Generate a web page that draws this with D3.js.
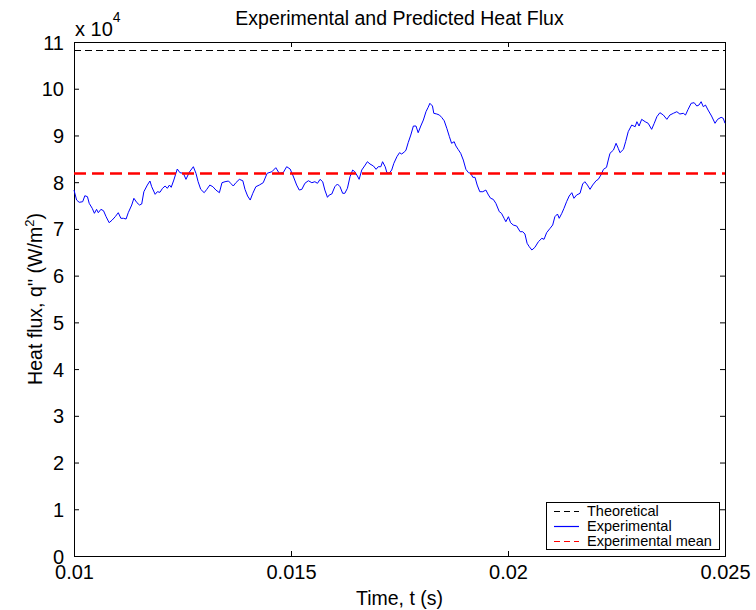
<!DOCTYPE html>
<html>
<head>
<meta charset="utf-8">
<script src="https://cdn.jsdelivr.net/npm/d3@7"></script>
<style>
    body { margin: 0; background: #fff; }
    svg text { font-family: "Liberation Sans", Arial, Helvetica, sans-serif; fill: #000; }
</style>
</head>
<body>
<div id="chart"></div>
<script>
// time (s)
const timeSec = [
    0.01000, 0.01006, 0.01012, 0.01020, 0.01025, 0.01031, 0.01035, 0.01042, 0.01047, 0.01052,
    0.01056, 0.01062, 0.01068, 0.01074, 0.01081, 0.01088, 0.01095, 0.01102, 0.01108, 0.01114,
    0.01120, 0.01125, 0.01133, 0.01138, 0.01145, 0.01151, 0.01156, 0.01161, 0.01169, 0.01175,
    0.01179, 0.01187, 0.01192, 0.01198, 0.01204, 0.01210, 0.01215, 0.01220, 0.01224, 0.01230,
    0.01238, 0.01244, 0.01252, 0.01258, 0.01266, 0.01275, 0.01281, 0.01286, 0.01292, 0.01300,
    0.01306, 0.01313, 0.01320, 0.01327, 0.01335, 0.01341, 0.01348, 0.01356, 0.01361, 0.01367,
    0.01373, 0.01381, 0.01389, 0.01394, 0.01400, 0.01406, 0.01412, 0.01419, 0.01427, 0.01436,
    0.01445, 0.01456, 0.01465, 0.01473, 0.01482, 0.01490, 0.01498, 0.01505, 0.01513, 0.01519,
    0.01525, 0.01532, 0.01540, 0.01548, 0.01555, 0.01561, 0.01567, 0.01573, 0.01578, 0.01584,
    0.01588, 0.01594, 0.01601, 0.01607, 0.01613, 0.01619, 0.01624, 0.01630, 0.01636, 0.01642,
    0.01647, 0.01653, 0.01657, 0.01663, 0.01671, 0.01676, 0.01682, 0.01690, 0.01696, 0.01701,
    0.01707, 0.01711, 0.01717, 0.01721, 0.01726, 0.01732, 0.01737, 0.01744, 0.01750, 0.01755,
    0.01762, 0.01765, 0.01770, 0.01776, 0.01782, 0.01788, 0.01793, 0.01799, 0.01805, 0.01811,
    0.01816, 0.01820, 0.01826, 0.01829, 0.01836, 0.01842, 0.01847, 0.01853, 0.01859, 0.01865,
    0.01870, 0.01876, 0.01880, 0.01885, 0.01891, 0.01897, 0.01903, 0.01909, 0.01914, 0.01919,
    0.01924, 0.01929, 0.01935, 0.01942, 0.01949, 0.01955, 0.01960, 0.01966, 0.01972, 0.01980,
    0.01985, 0.01991, 0.01995, 0.02001, 0.02006, 0.02012, 0.02020, 0.02028, 0.02034, 0.02039,
    0.02044, 0.02049, 0.02055, 0.02062, 0.02070, 0.02078, 0.02083, 0.02089, 0.02097, 0.02103,
    0.02108, 0.02114, 0.02118, 0.02124, 0.02129, 0.02135, 0.02141, 0.02147, 0.02152, 0.02158,
    0.02166, 0.02172, 0.02177, 0.02183, 0.02189, 0.02195, 0.02203, 0.02208, 0.02214, 0.02220,
    0.02227, 0.02231, 0.02235, 0.02243, 0.02249, 0.02254, 0.02258, 0.02266, 0.02271, 0.02277,
    0.02285, 0.02293, 0.02297, 0.02302, 0.02308, 0.02316, 0.02323, 0.02331, 0.02337, 0.02343,
    0.02350, 0.02358, 0.02366, 0.02373, 0.02381, 0.02389, 0.02396, 0.02404, 0.02409, 0.02415,
    0.02422, 0.02429, 0.02435, 0.02440, 0.02445, 0.02450, 0.02455, 0.02461, 0.02469, 0.02477,
    0.02483, 0.02491, 0.02496, 0.02500
];

// experimental heat flux (W/m^2)
const expFlux = [
    78320, 76180, 75690, 75820, 77100, 76890, 75480, 74410, 73340, 74190,
    73470, 74190, 73890, 72610, 71330, 71900, 72610, 73470, 72270, 72270,
    72120, 73470, 75110, 76550, 75610, 75110, 75330, 77960, 79390, 80250,
    79030, 77400, 77960, 77830, 78690, 79180, 78690, 79390, 78900, 80460,
    82820, 82030, 81900, 80610, 82180, 83310, 81900, 80100, 78470, 77750,
    78470, 79390, 79030, 78320, 77750, 79890, 80100, 80250, 79760, 79180,
    79890, 80610, 80310, 78470, 77040, 76180, 77620, 79030, 79390, 79890,
    81900, 82240, 83100, 81900, 82030, 83310, 82820, 81320, 79390, 78320,
    78470, 79760, 80310, 79890, 80100, 79760, 80610, 80100, 78320, 76760,
    77250, 77470, 79030, 79610, 79030, 77620, 77620, 78690, 81170, 82600,
    82240, 81320, 80610, 82600, 83670, 84380, 83890, 83460, 82750, 83310,
    83310, 84380, 83310, 82030, 81900, 82600, 84040, 85450, 86310, 86030,
    86520, 86880, 88450, 90090, 92020, 92020, 90590, 92020, 93300, 95080,
    96020, 96880, 96300, 94740, 94590, 94370, 93880, 93150, 91530, 89730,
    88320, 88660, 87740, 87030, 86180, 84740, 82750, 82030, 81900, 81040,
    81040, 79390, 77960, 77960, 78320, 77250, 76550, 76330, 75480, 73680,
    73340, 72270, 71540, 72610, 71330, 70830, 70620, 69400, 69400, 68910,
    66920, 66190, 65480, 66060, 67260, 67990, 67770, 69190, 70130, 70830,
    72610, 73190, 72270, 73340, 74410, 75820, 77040, 77750, 76550, 77250,
    77620, 79610, 80100, 79390, 78470, 79390, 80310, 80610, 81530, 82750,
    83180, 84740, 86180, 86880, 88320, 87250, 86310, 87030, 88660, 90800,
    92230, 91870, 92940, 92020, 93450, 92940, 92600, 91310, 92600, 94010,
    94870, 94370, 93450, 94370, 94740, 95080, 94590, 94740, 94370, 95590,
    96880, 97010, 96300, 96510, 97220, 96150, 96510, 95440, 94160, 92600,
    93450, 93880, 93670, 92600
];

const theoreticalFlux = 108100;
const meanFlux = 81850;

const xTicks = [0.01, 0.015, 0.02, 0.025];
const yTicks = [0, 1, 2, 3, 4, 5, 6, 7, 8, 9, 10, 11]; // x 10^4

const legendItems = [
    { label: "Theoretical", color: "#000000", dash: "6,4" },
    { label: "Experimental", color: "#0000ff", dash: null },
    { label: "Experimental mean", color: "#ff0000", dash: "6,4" }
];

class HeatFluxChart {
    constructor(containerId) {
        this.containerId = containerId;
        this.margin = { top: 42, right: 31, bottom: 54, left: 74 };
        this.totalWidth = 756;
        this.totalHeight = 610;
        this.width = this.totalWidth - this.margin.left - this.margin.right;
        this.height = this.totalHeight - this.margin.top - this.margin.bottom;
        this.initVis();
    }

    initVis() {
        const vis = this;

        vis.svg = d3.select(`#${vis.containerId}`).append("svg")
            .attr("width", vis.totalWidth)
            .attr("height", vis.totalHeight);

        vis.chart = vis.svg.append("g")
            .attr("transform", `translate(${vis.margin.left},${vis.margin.top})`);

        vis.x = d3.scaleLinear().domain([0.01, 0.025]).range([0, vis.width]);
        vis.y = d3.scaleLinear().domain([0, 110000]).range([vis.height, 0]);

        vis.drawAxes();
        vis.drawLines();
        vis.drawLegend();
        vis.drawLabels();
    }

    drawAxes() {
        const vis = this;
        const tick = 5;

        // bottom / top
        const xb = vis.chart.append("g")
            .attr("transform", `translate(0,${vis.height})`)
            .call(d3.axisBottom(vis.x).tickValues(xTicks).tickSize(-tick).tickPadding(9)
                .tickFormat(d => d3.format("")(+d.toFixed(3))));
        const xt = vis.chart.append("g")
            .call(d3.axisTop(vis.x).tickValues(xTicks).tickSize(-tick).tickFormat(""));

        // left / right
        const yl = vis.chart.append("g")
            .call(d3.axisLeft(vis.y).tickValues(yTicks.map(d => d * 1e4)).tickSize(-tick).tickPadding(10)
                .tickFormat(d => d / 1e4));
        const yr = vis.chart.append("g")
            .attr("transform", `translate(${vis.width},0)`)
            .call(d3.axisRight(vis.y).tickValues(yTicks.map(d => d * 1e4)).tickSize(-tick).tickFormat(""));

        [xb, xt, yl, yr].forEach(g => {
            g.select(".domain").attr("stroke", "#000").attr("stroke-width", 1);
            g.selectAll(".tick line").attr("stroke", "#000");
            g.selectAll("text").style("font-size", "20px").attr("fill", "#000");
        });
        xb.selectAll("text").attr("dy", "0.71em");
        yl.selectAll("text").attr("dy", "0.35em");
    }

    drawLines() {
        const vis = this;
        const data = timeSec.map((t, i) => ({ t: t, q: expFlux[i] }));

        // theoretical
        vis.chart.append("line")
            .attr("x1", 0).attr("x2", vis.width)
            .attr("y1", vis.y(theoreticalFlux)).attr("y2", vis.y(theoreticalFlux))
            .attr("stroke", "#000").attr("stroke-width", 1)
            .attr("shape-rendering", "crispEdges")
            .attr("stroke-dasharray", "7,4");

        // experimental
        const line = d3.line().x(d => vis.x(d.t)).y(d => vis.y(d.q));
        vis.chart.append("path")
            .datum(data)
            .attr("d", line)
            .attr("fill", "none")
            .attr("stroke", "#0000ff")
            .attr("stroke-width", 1);

        // mean
        vis.chart.append("line")
            .attr("x1", 0).attr("x2", vis.width)
            .attr("y1", vis.y(meanFlux)).attr("y2", vis.y(meanFlux))
            .attr("stroke", "#ff0000").attr("stroke-width", 2.5)
            .attr("stroke-dasharray", "12,6");
    }

    drawLegend() {
        const vis = this;
        const lx = 546 - vis.margin.left, ly = 502 - vis.margin.top;
        const lw = 173, lh = 47, rowH = 15;

        const legend = vis.chart.append("g")
            .attr("transform", `translate(${lx},${ly})`);

        legend.append("rect")
            .attr("x", 0.5).attr("y", 0.5)
            .attr("width", lw).attr("height", lh)
            .attr("fill", "#fff").attr("stroke", "#000").attr("stroke-width", 1);

        const rows = legend.selectAll(".row")
            .data(legendItems)
            .enter()
            .append("g")
            .attr("transform", (d, i) => `translate(0,${9 + i * rowH})`);

        rows.append("line")
            .attr("x1", 8).attr("x2", 33)
            .attr("y1", 0.5).attr("y2", 0.5)
            .style("stroke", d => d.color)
            .style("stroke-width", 1.2)
            .style("stroke-dasharray", d => d.dash || "none");

        rows.append("text")
            .attr("x", 41)
            .attr("dy", "0.35em")
            .style("font-size", "14.5px")
            .text(d => d.label);
    }

    drawLabels() {
        const vis = this;

        vis.svg.append("text")
            .attr("x", vis.margin.left + vis.width / 2)
            .attr("y", 25)
            .attr("text-anchor", "middle")
            .style("font-size", "19.5px")
            .text("Experimental and Predicted Heat Flux");

        vis.svg.append("text")
            .attr("x", vis.margin.left + vis.width / 2)
            .attr("y", 605)
            .attr("text-anchor", "middle")
            .style("font-size", "19.5px")
            .text("Time, t (s)");

        const yl = vis.svg.append("text")
            .attr("transform", `translate(42,${vis.margin.top + vis.height / 2}) rotate(-90)`)
            .attr("text-anchor", "middle")
            .style("font-size", "19.5px");
        yl.append("tspan").text("Heat flux, q'' (W/m");
        yl.append("tspan").attr("dy", -8).style("font-size", "13px").text("2");
        yl.append("tspan").attr("dy", 8).text(")");

        // exponent
        const ex = vis.svg.append("text")
            .attr("x", vis.margin.left + 1)
            .attr("y", 36)
            .style("font-size", "20px");
        ex.append("tspan").text("x 10");
        ex.append("tspan").attr("dy", -14).style("font-size", "14px").text("4");
    }
}

new HeatFluxChart("chart");
</script>
</body>
</html>
